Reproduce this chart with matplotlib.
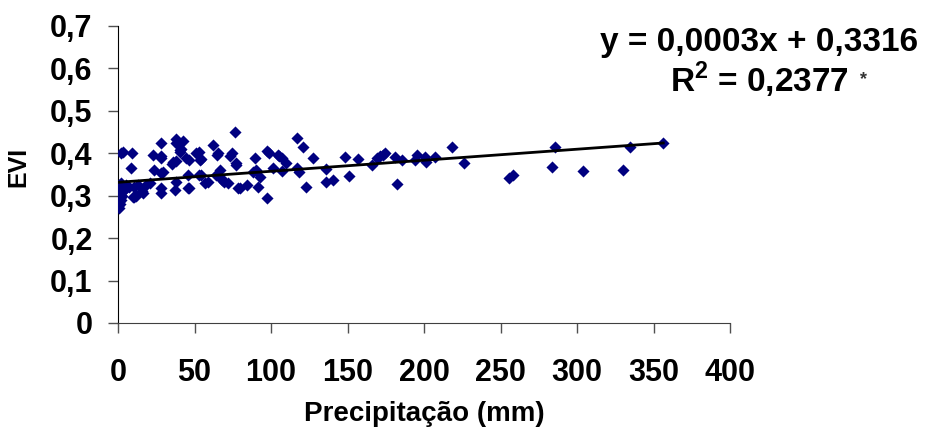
import numpy as np
import matplotlib.pyplot as plt

plt.rcParams['font.family'] = ['Liberation Sans', 'DejaVu Sans']
plt.rcParams['font.weight'] = 'bold'
plt.rcParams['mathtext.fontset'] = 'custom'
plt.rcParams['mathtext.rm'] = 'Liberation Sans:bold'
plt.rcParams['mathtext.bf'] = 'Liberation Sans:bold'

# precipitation (mm) vs EVI
precip = [0.3, 0.5, 0.8, 1.0, 0.5, 1.2, 0.3, 1.5, 2.0, 0.8, 2.5, 3.0, 1.8, 0.2,
          0.6, 1.1, 1.4, 2.2, 0.4,
          5.0, 7.0, 9.6, 13.0, 16.0, 12.0,
          3.3, 2.0, 9.2, 8.3, 5.5, 10.5, 10.5, 16.4, 18.6, 22.9, 23.6, 28.4, 28.4,
          28.4, 28.4, 29.4, 20.7, 38.2, 38.2, 42.5, 40.4, 41.0, 36.0, 35.0, 37.0,
          38.2, 44.7, 45.8, 45.8, 51.3, 53.4, 52.7, 56.7, 59.0, 62.1, 65.4, 66.5,
          67.0, 69.0, 74.2, 76.3, 77.0, 78.5, 84.0, 73.5, 72.0,
          28.4, 28.4, 40.4, 37.6, 46.4, 46.4, 53.0, 54.5, 54.5, 64.8, 64.0, 67.7,
          77.4, 79.6,
          89.4, 88.5, 90.0, 92.7, 91.5, 97.5, 97.5, 98.5, 101.4, 104.6, 105.5,
          107.0, 110.1, 107.0, 117.1, 121.0, 117.0, 118.5, 123.2, 127.5, 135.8,
          135.8, 140.6, 148.3, 151.1, 157.0, 165.7, 169.0, 171.0, 174.4, 173.0,
          181.0, 182.5, 185.3, 195.2, 194.0, 200.6, 201.0, 207.1, 218.0, 226.0,
          255.7, 258.3, 285.6, 283.4, 303.7, 329.9, 334.7, 356.4]
evi = [0.275, 0.285, 0.290, 0.295, 0.300, 0.305, 0.310, 0.315, 0.320, 0.325, 0.300, 0.310, 0.290, 0.282,
       0.270, 0.280, 0.300, 0.330, 0.318,
       0.325, 0.320, 0.298, 0.325, 0.310, 0.300,
       0.404, 0.400, 0.401, 0.366, 0.318, 0.296, 0.320, 0.306, 0.325, 0.396, 0.361, 0.425, 0.388,
       0.318, 0.306, 0.357, 0.330, 0.433, 0.424, 0.428, 0.404, 0.410, 0.380, 0.375, 0.314,
       0.333, 0.388, 0.349, 0.318, 0.400, 0.384, 0.349, 0.330, 0.333, 0.420, 0.400, 0.361,
       0.341, 0.333, 0.400, 0.450, 0.377, 0.318, 0.325, 0.393, 0.330,
       0.393, 0.353, 0.408, 0.381, 0.318, 0.384, 0.404, 0.386, 0.349, 0.396, 0.349, 0.338,
       0.373, 0.318,
       0.388, 0.357, 0.360, 0.344, 0.320, 0.294, 0.406, 0.400, 0.365, 0.396, 0.393,
       0.390, 0.377, 0.358, 0.436, 0.414, 0.366, 0.357, 0.320, 0.388, 0.362,
       0.333, 0.337, 0.392, 0.347, 0.386, 0.373, 0.388, 0.393, 0.400, 0.397,
       0.392, 0.327, 0.384, 0.396, 0.385, 0.392, 0.380, 0.392, 0.414, 0.378,
       0.341, 0.349, 0.414, 0.367, 0.358, 0.361, 0.414, 0.425]

# linear trendline as drawn in the reference (equation label shows rounded slope)
trend_slope = 0.00026
trend_intercept = 0.3316
eq_text = 'y = 0,0003x + 0,3316'
r2_text = r'R$^{2}$ = 0,2377'

x = np.array(precip)
y = np.array(evi)

fig = plt.figure(figsize=(9.27, 4.34), dpi=100)
ax = fig.add_axes([118/927, 1 - 323/434, 612/927, 297/434])

ax.scatter(x, y, marker='D', s=38, color='#000080', linewidths=0, zorder=3)
xl = np.array([0, x.max()])
ax.plot(xl, trend_slope*xl + trend_intercept, color='black', lw=2.0, zorder=4)

ax.set_xlim(0, 400)
ax.set_ylim(0, 0.7)
ax.set_xticks(np.arange(0, 401, 50))
ax.set_yticks(np.arange(0, 0.71, 0.1))
ax.set_yticklabels(['0' if v == 0 else f'{v:.1f}'.replace('.', ',') for v in np.arange(0, 0.71, 0.1)])

for s in ['top', 'right']:
    ax.spines[s].set_visible(False)
ax.spines['left'].set_color('black')
ax.spines['bottom'].set_color('#404040')
ax.tick_params(axis='x', direction='out', length=7.5, width=1, colors='#505050',
               labelcolor='black', labelsize=22, pad=18)
ax.tick_params(axis='y', direction='out', length=7.2, width=1, colors='#505050',
               labelcolor='black', labelsize=22, pad=11)
for lab in ax.get_xticklabels() + ax.get_yticklabels():
    lab.set_fontweight('bold')

fig.text(424/927, 1 - 414/434, 'Precipitação (mm)', ha='center', va='center',
         fontsize=20, fontweight='bold')
fig.text(18.5/927, 1 - 167/434, 'EVI', ha='center', va='center', rotation=90,
         fontsize=18, fontweight='bold')
fig.text(759/927, 1 - 42/434, eq_text, ha='center', va='center', fontsize=24, fontweight='bold')
fig.text(759/927, 1 - 80/434, r2_text, ha='center', va='center', fontsize=24, fontweight='bold')
fig.text(864/927, 1 - 80/434, '*', ha='center', va='center', fontsize=13, color='#333333')

fig.savefig('out.png', dpi=100)
